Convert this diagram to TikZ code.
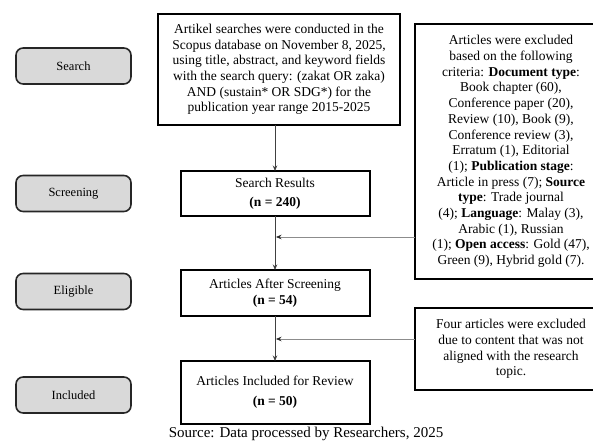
\documentclass[tikz,border=0pt]{standalone}
\usepackage{fontspec}
\setmainfont{Liberation Serif}
\usetikzlibrary{positioning}
\usetikzlibrary{arrows.meta,calc}
\tikzset{
    %Define standard arrow tip
    >={Stealth[length=5.5pt,width=4.5pt]},
    % Define arrow styles
    pil/.style={
           ->,
           color=black!75,
           line width=0.8pt,},
    sidepil/.style={
           -{Stealth[length=5.5pt,width=4.5pt,color=black!85]},
           color=black!45,
           line width=0.6pt,
           shorten >=1pt,}
}
\newcommand{\stageheight}{36pt}

\begin{document}
\begin{tikzpicture}[outer sep = 0pt]
\tikzstyle{stagebox}=[draw=black!85, fill=black!15, rectangle, line width=1.6pt, rounded corners=2.5mm,
                   minimum height=\stageheight, minimum width=115pt, align=center,
                   font=\fontsize{12.5}{15}\selectfont]
\tikzstyle{mainbox}=[draw=black, fill=white, rectangle, line width=2pt,
                   minimum width=189pt, align=center, font=\fontsize{13.5}{15.7}\selectfont]
\tikzstyle{exclbox}=[draw=black, fill=white, rectangle, line width=2pt,
                   minimum width=192pt, align=center, font=\fontsize{13.5}{15.7}\selectfont]

\useasboundingbox (0pt,0pt) rectangle (593pt,-443pt);

%%%%%%%%%%%%%%%%%%%%%%%%%%%%%%%%%
% Stages
%%%%%%%%%%%%%%%%%%%%%%%%%%%%%%%%%
\node[stagebox] (search)    at (73.5pt,-66pt)    {Search};
\node[stagebox] (screening) at (73.5pt,-193.5pt) {Screening};
\node[stagebox] (eligible)  at (73.5pt,-291.5pt) {Eligible};
\node[stagebox] (included)  at (73.5pt,-395pt)   {Included};

%%%%%%%%%%%%%%%%%%%%%%%%%%%%%%%%%
% Flow
%%%%%%%%%%%%%%%%%%%%%%%%%%%%%%%%%
\node[mainbox, minimum width=242pt, minimum height=111pt] (query) at (279pt,-69.5pt)
    {Artikel searches were conducted in the\\ Scopus database on November 8, 2025,\\
     using title, abstract, and keyword fields\\ with the search query: (zakat OR zaka)\\
     AND (sustain* OR SDG*) for the\\ publication year range 2015-2025};
\node[mainbox, minimum height=45pt] (results)  at (275pt,-193.5pt) {Search Results\\[3pt]\textbf{(n = 240)}};
\node[mainbox, minimum height=46pt] (screened) at (275pt,-293pt)   {Articles After Screening\\\textbf{(n = 54)}};
\node[mainbox, minimum height=63pt] (final)    at (275pt,-392.5pt) {Articles Included for Review\\[4pt]\textbf{(n = 50)}};

%%%%%%%%%%%%%%%%%%%%%%%%%%%%%%%%%
% Exclusions
%%%%%%%%%%%%%%%%%%%%%%%%%%%%%%%%%
\node[exclbox, minimum height=255pt] (excl1) at (511pt,-151.5pt)
    {Articles were excluded\\ based on the following\\ criteria: \textbf{Document type}:\\
     Book chapter (60),\\ Conference paper (20),\\ Review (10), Book (9),\\
     Conference review (3),\\ Erratum (1), Editorial\\ (1); \textbf{Publication stage}:\\
     Article in press (7); \textbf{Source}\\ \textbf{type}: Trade journal\\
     (4); \textbf{Language}: Malay (3),\\ Arabic (1), Russian\\
     (1); \textbf{Open access}: Gold (47),\\ Green (9), Hybrid gold (7).};
\node[exclbox, minimum height=82pt] (excl2) at (511pt,-349pt)
    {Four articles were excluded\\ due to content that was not\\ aligned with the research\\ topic.};

\node[font=\fontsize{15}{17}\selectfont] (source) at (306pt,-434pt) {Source: Data processed by Researchers, 2025};

\coordinate (join1) at (275pt,-237pt);
\coordinate (join2) at (275pt,-339pt);

\path[pil] (query.south -| results.north) edge (results.north);
\path[pil] (results.south) edge (screened.north);
\path[pil] (screened.south) edge (final.north);
\path[sidepil] (excl1.west |- join1) edge (join1);
\path[sidepil] (excl2.west |- join2) edge (join2);

\end{tikzpicture}
\end{document}
